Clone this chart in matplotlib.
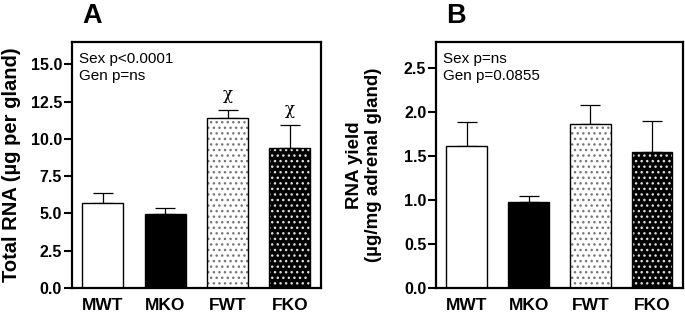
import matplotlib as mpl
import matplotlib.pyplot as plt
import numpy as np

groups = ['MWT', 'MKO', 'FWT', 'FKO']

total_rna = [5.72, 4.98, 11.43, 9.40]
total_rna_sem = [0.64, 0.36, 0.50, 1.56]

rna_yield = [1.617, 0.984, 1.863, 1.552]
rna_yield_sem = [0.276, 0.061, 0.223, 0.353]

mpl.rc('font', family='Liberation Sans')


def draw_bars(ax, means, errs):
    x = np.arange(len(groups))
    w = 0.66
    # MWT open, MKO solid, FWT dotted white, FKO dotted black
    ax.bar(x[0], means[0], w, facecolor='white', edgecolor='black', lw=1.0, zorder=2)
    ax.bar(x[1], means[1], w, facecolor='black', edgecolor='black', lw=1.0, zorder=2)
    ax.bar(x[2], means[2], w, facecolor='white', edgecolor='#777777', hatch='...', lw=0, zorder=2)
    ax.bar(x[3], means[3], w, facecolor='black', edgecolor='#dddddd', hatch='...', lw=0, zorder=2)
    ax.bar(x[2:], means[2:], w, fill=False, edgecolor='black', lw=1.0, zorder=3)
    ax.errorbar(x, means, yerr=[np.zeros(len(errs)), errs], fmt='none', ecolor='black',
                elinewidth=0.9, capsize=7.5, capthick=0.9, zorder=1)
    ax.set_xlim(-0.5, 3.5)
    ax.set_xticks(x)
    ax.set_xticklabels(groups, fontsize=12.5, fontweight='bold')
    ax.tick_params(axis='x', length=0, pad=7)
    ax.tick_params(axis='y', length=6, width=1.5, labelsize=11.5, pad=1)
    for s in ax.spines.values():
        s.set_linewidth(1.6)


fig = plt.figure(figsize=(6.85, 3.14), dpi=100)

ax1 = fig.add_axes([0.1047, 0.083, 0.364, 0.783])
draw_bars(ax1, total_rna, total_rna_sem)
ax1.set_ylim(0, 16.5)
ax1.set_yticks([0, 2.5, 5, 7.5, 10, 12.5, 15])
ax1.set_yticklabels(['0.0', '2.5', '5.0', '7.5', '10.0', '12.5', '15.0'], fontweight='bold')
ax1.set_ylabel('Total RNA (µg per gland)', fontsize=14.5, fontweight='bold', labelpad=7)
for i in (2, 3):
    ax1.text(i, total_rna[i] + total_rna_sem[i] + 0.45, 'χ', ha='center', va='bottom',
             fontsize=12, family='DejaVu Serif')
ax1.text(0.03, 0.96, 'Sex p<0.0001\nGen p=ns', transform=ax1.transAxes, ha='left', va='top',
         fontsize=11, linespacing=1.3)
fig.text(0.1197, 0.927, 'A', fontsize=19.5, fontweight='bold')

ax2 = fig.add_axes([0.6365, 0.083, 0.3605, 0.783])
draw_bars(ax2, rna_yield, rna_yield_sem)
ax2.set_ylim(0, 2.8)
ax2.set_yticks([0, 0.5, 1.0, 1.5, 2.0, 2.5])
ax2.set_yticklabels(['0.0', '0.5', '1.0', '1.5', '2.0', '2.5'], fontweight='bold')
ax2.set_ylabel('RNA yield\n(µg/mg adrenal gland)', fontsize=13.5, fontweight='bold', labelpad=16,
               linespacing=1.1)
ax2.text(0.03, 0.96, 'Sex p=ns\nGen p=0.0855', transform=ax2.transAxes, ha='left', va='top',
         fontsize=11, linespacing=1.3)
fig.text(0.651, 0.927, 'B', fontsize=19.5, fontweight='bold')

plt.savefig('out.png', dpi=100)
